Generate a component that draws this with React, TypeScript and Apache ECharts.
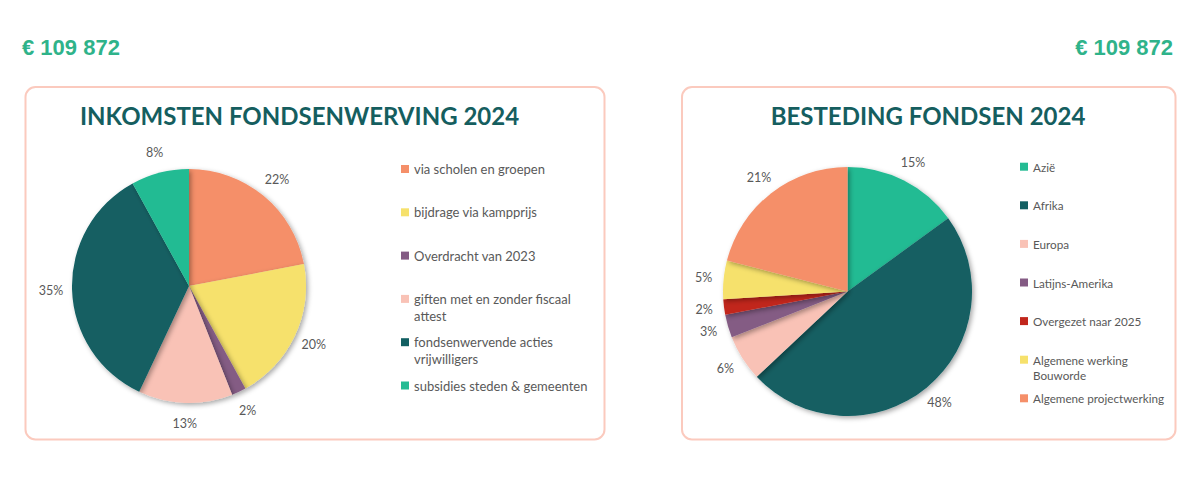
import React, { useEffect, useRef } from "react";
import * as echarts from "echarts";

const amountLabel = "€ 109 872";
const incomeTitle = "INKOMSTEN FONDSENWERVING 2024";
const spendTitle = "BESTEDING FONDSEN 2024";

const incomeNames = [
  "via scholen en groepen",
  "bijdrage via kampprijs",
  "Overdracht van 2023",
  "giften met en zonder fiscaal\nattest",
  "fondsenwervende acties\nvrijwilligers",
  "subsidies steden & gemeenten",
];
const incomeValues = [22, 20, 2, 13, 35, 8];
const incomeColors = ["#f58f69", "#f6e16c", "#845b84", "#f9c2b6", "#125f62", "#24bb93"];

const spendNames = [
  "Azië",
  "Afrika",
  "Europa",
  "Latijns-Amerika",
  "Overgezet naar 2025",
  "Algemene werking\nBouworde",
  "Algemene projectwerking",
];
const spendValues = [15, 48, 6, 3, 2, 5, 21];
const spendColors = ["#24bb93", "#125f62", "#f9c2b6", "#845b84", "#c1261c", "#f6e16c", "#f58f69"];

const TEXT_GREY = "#595959";
const TEAL_DARK = "#155e5f";
const GREEN = "#2fb38a";
const BORDER = "#fbcabe";

function legendFor(names: string[], x: number, y0: number, gap: number, lineH: number, fontSize: number) {
  return names.map((n, i) => ({
    data: [n],
    orient: "vertical",
    left: x,
    top: y0 + i * gap - (n.includes("\n") ? 1.5 : 0.5) * lineH,
    padding: 0,
    itemWidth: 8,
    itemHeight: 8,
    itemGap: 0,
    icon: "rect",
    selectedMode: false,
    textStyle: { fontFamily: "Lato", fontSize, color: TEXT_GREY, lineHeight: lineH },
    formatter: (name: string) => (name.includes("\n") ? "\n" + name : name),
  }));
}

function pieSeries(names: string[], values: number[], colors: string[], center: number[], r: number, labelDist: number) {
  return {
    type: "pie",
    center,
    radius: [0, r],
    startAngle: 90,
    clockwise: true,
    avoidLabelOverlap: false,
    data: names.map((n, i) => ({ name: n, value: values[i], itemStyle: { color: colors[i] } })),
    itemStyle: {
      shadowBlur: 5,
      shadowOffsetX: 2,
      shadowOffsetY: 2,
      shadowColor: "rgba(0,0,0,0.35)",
    },
    label: {
      show: true,
      position: "outside",
      distanceToLabelLine: 0,
      fontFamily: "Lato",
      fontSize: 12.5,
      color: TEXT_GREY,
      formatter: (p: any) => Math.round(p.percent) + "%",
    },
    labelLine: { show: false, length: labelDist, length2: 0 },
    labelLayout: () => ({ align: "center", verticalAlign: "middle" }),
    emphasis: { disabled: true },
  };
}

export default function App() {
  const ref = useRef<HTMLDivElement>(null);
  useEffect(() => {
    if (!ref.current) return;
    const chart = echarts.init(ref.current, null, { renderer: "svg" });
    chart.setOption({
      animation: false,
      backgroundColor: "#ffffff",
      legend: [
        ...legendFor(incomeNames, 401, 169, 43.3, 16.7, 13),
        ...legendFor(spendNames, 1020, 166.7, 38.6, 15.3, 11.7),
      ],
      graphic: [
        {
          type: "rect",
          shape: { x: 25.5, y: 87, width: 579, height: 352.5, r: 10 },
          style: { fill: "none", stroke: BORDER, lineWidth: 2 },
          silent: true,
        },
        {
          type: "rect",
          shape: { x: 682, y: 87, width: 493.5, height: 352.5, r: 10 },
          style: { fill: "none", stroke: BORDER, lineWidth: 2 },
          silent: true,
        },
        {
          type: "text",
          x: 22,
          y: 47,
          style: { text: amountLabel, font: 'bold 22px "Liberation Sans"', fill: GREEN, align: "left", verticalAlign: "middle" },
        },
        {
          type: "text",
          x: 1173,
          y: 47,
          style: { text: amountLabel, font: 'bold 22px "Liberation Sans"', fill: GREEN, align: "right", verticalAlign: "middle" },
        },
        {
          type: "text",
          x: 80,
          y: 115,
          style: { text: incomeTitle, font: 'bold 24px "Lato"', fill: TEAL_DARK, align: "left", verticalAlign: "middle" },
        },
        {
          type: "text",
          x: 928,
          y: 115,
          style: { text: spendTitle, font: 'bold 24px "Lato"', fill: TEAL_DARK, align: "center", verticalAlign: "middle" },
        },
      ],
      series: [
        pieSeries(incomeNames, incomeValues, incomeColors, [189, 286], 117, 21),
        pieSeries(spendNames, spendValues, spendColors, [847.5, 291.5], 124.5, 20),
      ],
    });
    return () => chart.dispose();
  }, []);
  return <div ref={ref} style={{ position: "absolute", left: 0, top: 0, width: 1200, height: 480 }} />;
}
